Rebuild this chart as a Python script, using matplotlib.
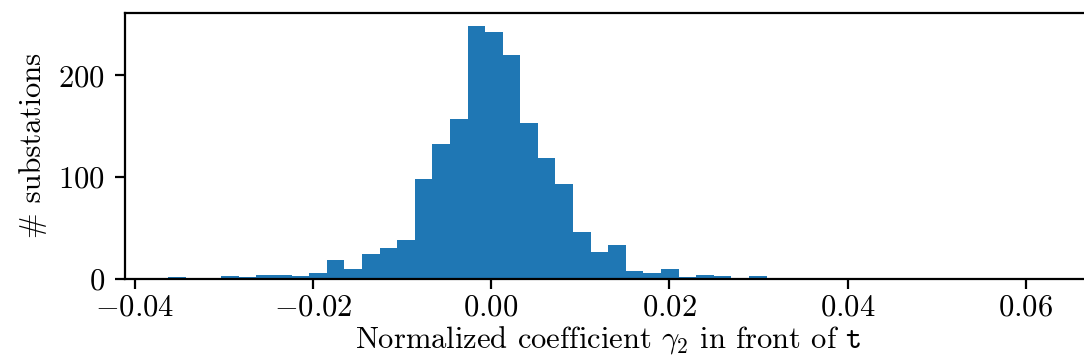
import numpy as np
import matplotlib
matplotlib.use('Agg')
import matplotlib.pyplot as plt

plt.rcParams['font.family'] = 'serif'
plt.rcParams['font.serif'] = ['cmr10']
plt.rcParams['mathtext.fontset'] = 'cm'
plt.rcParams['axes.formatter.use_mathtext'] = True
plt.rcParams['font.size'] = 11

# Histogram data
bin_min = -0.0362
bin_max = 0.0625
n_bins = 50
counts = [2, 0, 0, 3, 2, 4, 4, 3, 6, 18,
          10, 24, 30, 38, 98, 133, 157, 249, 243, 220,
          153, 119, 93, 46, 26, 33, 8, 6, 10, 2,
          4, 3, 0, 3, 0, 0, 0, 0, 0, 0,
          0, 0, 0, 0, 0, 0, 0, 0, 0, 1]
xticks = [-0.04, -0.02, 0.0, 0.02, 0.04, 0.06]
yticks = [0, 100, 200]

edges = np.linspace(bin_min, bin_max, n_bins + 1)

W, H = 1084, 364
fig = plt.figure(figsize=(W / 200, H / 200), dpi=200)
ax = fig.add_axes([124.5 / W, (H - 278.7) / H, (1092 - 124.5) / W, (278.7 - 13) / H])
ax.hist(edges[:-1], bins=edges, weights=counts, color='#1f77b4')
ax.set_xticks(xticks)
ax.set_yticks(yticks)
ax.tick_params(axis='x', pad=2)
ax.set_xlabel(r'Normalized coefficient $\gamma_2$ in front of $\mathtt{t}$', labelpad=1)
ax.set_ylabel(r'# substations')
fig.savefig('out.png', dpi=200)
